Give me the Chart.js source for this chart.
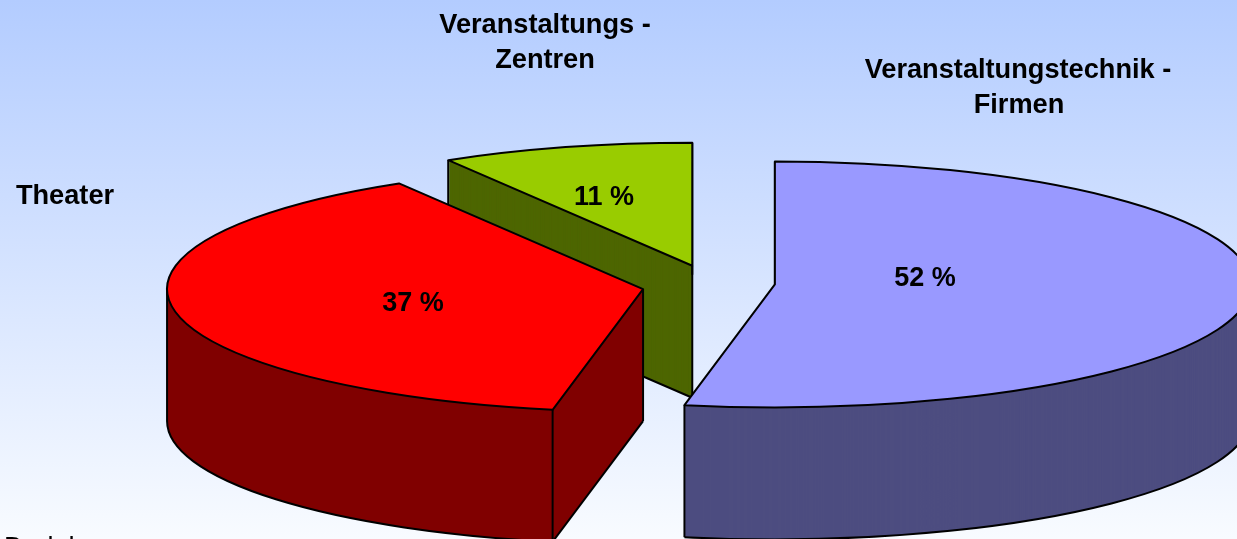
<!DOCTYPE html>
<html>
<head>
<meta charset="utf-8">
<title>Verteilung</title>
<script src="https://cdn.jsdelivr.net/npm/chart.js@4/dist/chart.umd.min.js"></script>
<style>
  html, body { margin: 0; padding: 0; overflow: hidden; }
  #wrap { width: 1237px; height: 539px; background: linear-gradient(#b3ccff, #f8fbff); }
</style>
</head>
<body>
<div id="wrap"><canvas id="chart" width="1237" height="539"></canvas></div>
<script>
// data
const categories = ['Veranstaltungstechnik - Firmen', 'Theater', 'Veranstaltungs - Zentren'];
const shares = [52, 37, 11];
const topColors = ['#9999ff', '#ff0000', '#99cc00'];
const sideColors = ['#4d4d80', '#800000', '#4d6600'];
const explode = [58, 77, 73];

// look of the 3d pie
const rx = 476;
const ry = 123;
const depth = 132;
const perspectiveFront = 0.35;
const perspectiveBack = 0.5;
const drawOrder = [2, 0, 1];

// name labels, one entry per line
const nameLabels = [
  ['Veranstaltungs -', 545, 26],
  ['Zentren', 545, 61],
  ['Veranstaltungstechnik -', 1018, 71],
  ['Firmen', 1019, 106],
  ['Theater', 65, 197],
];
const valueLabelPos = [[925, 279], [413, 304], [604, 198]];
const footNote = 'Darlehen';

// back of the pie gets narrower, front gets wider
const warp = (angle) => {
  const t = angle + Math.PI / 2;
  const x = Math.sin(t);
  const y = -Math.cos(t);
  const persp = y > 0 ? perspectiveFront : perspectiveBack;
  let w = Math.atan2(x / (1 - persp * y), -y);
  if (w < 0) w += Math.PI * 2;
  return w - Math.PI / 2;
};

const apexOf = (arc) => {
  const mid = (arc.startAngle + arc.endAngle) / 2;
  const off = arc.options.offset;
  return {
    x: arc.x + Math.cos(mid) * off,
    y: arc.y + Math.sin(mid) * off * ry / rx,
    start: warp(arc.startAngle),
    end: warp(arc.endAngle),
    wide: arc.endAngle - arc.startAngle > Math.PI,
  };
};

const slicePath = (ctx, p, dy) => {
  ctx.beginPath();
  ctx.moveTo(p.x, p.y + dy);
  ctx.ellipse(p.x, p.y + dy, rx, ry, 0, p.start, p.end);
  ctx.closePath();
};

const rimPoint = (p, angle) => ({
  x: p.x + Math.cos(angle) * rx,
  y: p.y + Math.sin(angle) * ry,
});

const pie3d = {
  id: 'pie3d',
  beforeDatasetDraw(chart) {
    const ctx = chart.ctx;
    const arcs = chart.getDatasetMeta(0).data;
    ctx.save();
    ctx.lineWidth = 2;
    ctx.lineJoin = 'round';
    ctx.strokeStyle = '#000000';
    drawOrder.forEach((i) => {
      const p = apexOf(arcs[i]);
      ctx.fillStyle = sideColors[i];
      for (let dy = depth; dy > 0; dy--) {
        slicePath(ctx, p, dy);
        ctx.fill();
      }
      // lower rim, front half only
      const from = Math.max(p.start, 0);
      const to = Math.min(p.end, Math.PI);
      if (from < to) {
        ctx.beginPath();
        ctx.ellipse(p.x, p.y + depth, rx, ry, 0, from, to);
        ctx.stroke();
      }
      // vertical edges, the top face hides the ones at the back
      const first = rimPoint(p, p.start);
      const edges = [first, rimPoint(p, p.end)];
      if (p.start < Math.PI && p.end > Math.PI) edges.push(rimPoint(p, Math.PI));
      if (!p.wide) {
        edges.push(p);
        ctx.beginPath();
        ctx.moveTo(p.x, p.y + depth);
        ctx.lineTo(first.x, first.y + depth);
        ctx.stroke();
      }
      edges.forEach((e) => {
        ctx.beginPath();
        ctx.moveTo(e.x, e.y);
        ctx.lineTo(e.x, e.y + depth);
        ctx.stroke();
      });
      slicePath(ctx, p, 0);
      ctx.fillStyle = topColors[i];
      ctx.fill();
      ctx.stroke();
    });
    ctx.restore();
    return false;
  },
  afterDraw(chart) {
    const ctx = chart.ctx;
    ctx.save();
    ctx.fillStyle = '#000000';
    ctx.font = 'bold 27.2px "Liberation Sans", Arial, sans-serif';
    ctx.textAlign = 'center';
    ctx.textBaseline = 'middle';
    nameLabels.forEach(([text, x, y]) => ctx.fillText(text, x, y));
    ctx.font = 'bold 27px "Liberation Sans", Arial, sans-serif';
    shares.forEach((v, i) => {
      ctx.fillText(v + ' %', valueLabelPos[i][0], valueLabelPos[i][1]);
    });
    // cut off by the bottom edge in the original too
    ctx.textAlign = 'left';
    ctx.font = '27px "Liberation Sans", Arial, sans-serif';
    ctx.fillText(footNote, 4, 549);
    ctx.restore();
  },
};

new Chart(document.getElementById('chart'), {
  type: 'pie',
  data: {
    labels: categories,
    datasets: [{
      data: shares,
      backgroundColor: topColors,
      offset: explode,
    }],
  },
  options: {
    responsive: false,
    animation: false,
    layout: { padding: { left: 197, top: 28 } },
    plugins: { legend: { display: false }, tooltip: { enabled: false } },
  },
  plugins: [pie3d],
});
</script>
</body>
</html>
